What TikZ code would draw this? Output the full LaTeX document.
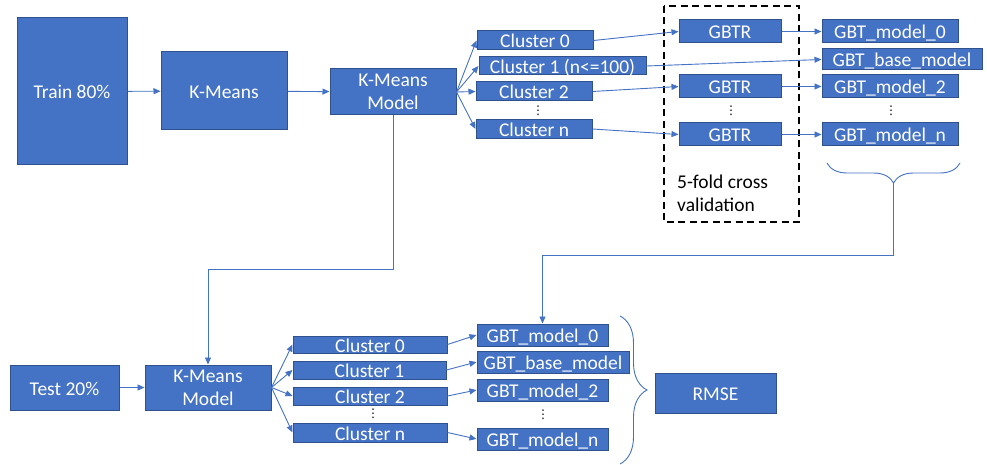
\documentclass[tikz,border=0pt]{standalone}
\usepackage{fontspec}
\setmainfont{Carlito}
\newfontfamily\symfont{DejaVu Sans}
\usetikzlibrary{arrows.meta,decorations.pathreplacing}
\definecolor{boxblue}{HTML}{4472C4}
\definecolor{boxedge}{HTML}{2F528F}
\definecolor{linkblue}{HTML}{4472C4}
\newcommand{\boxfont}{\fontsize{19.5}{23}\selectfont}

\begin{document}
\begin{tikzpicture}[x=1pt,y=-1pt,
  blk/.style={draw=boxedge,fill=boxblue,text=white,font=\boxfont,inner sep=0pt,line width=1pt},
  one/.style={blk,text height=15pt,text depth=0pt},
  two/.style={blk,align=center},
  clus/.style={one,minimum width=116pt,minimum height=19pt},
  gbtr/.style={one,minimum width=102pt,minimum height=23pt},
  mdl/.style={one,minimum width=136pt,minimum height=23pt},
  vdot/.style={inner sep=0pt,font=\symfont\fontsize{12}{12}\selectfont},
  link/.style={draw=linkblue,line width=0.9pt,-{Triangle[length=7pt,width=6pt]}},
  brc/.style={draw=linkblue,line width=0.9pt,decorate,decoration={brace,amplitude=#1}},
  cvbox/.style={draw=black,line width=2pt,dash pattern=on 7pt off 4.5pt}]

\useasboundingbox (0,0) rectangle (987,465);

%% ---------------- training ----------------
\node[one,minimum width=110pt,minimum height=147pt] (train) at (72,91.5) {Train 80\%};
\node[one,minimum width=126pt,minimum height=78pt] (kmeans) at (224,91) {K-Means};
\node[two,minimum width=126pt,minimum height=46pt] (kmm) at (393,92) {K-Means\\Model};

\node[clus] (c0) at (535,40.5) {Cluster 0};
\node[one,minimum width=167pt,minimum height=18pt] (c1) at (562.5,66) {Cluster 1 (n<=100)};
\node[clus] (c2) at (534,91.5) {Cluster 2};
\node[vdot] (cdots) at (538,110.5) {⋮};
\node[clus] (cn) at (534,129) {Cluster n};

\draw[cvbox] (664,6) rectangle (799,222);
\node[gbtr] (gbtr0) at (730,31.5) {GBTR};
\node[gbtr] (gbtr2) at (730,86.5) {GBTR};
\node[vdot] (rdots) at (731,110.5) {⋮};
\node[gbtr] (gbtrn) at (730,134.5) {GBTR};
\node[font=\boxfont,inner sep=0pt,align=left,anchor=west] (cvnote) at (677,193) {5-fold cross\\validation};

\node[mdl] (m0) at (890,31.5) {GBT\_model\_0};
\node[one,minimum width=160pt,minimum height=21pt] (mbase) at (902,59.5) {GBT\_base\_model};
\node[mdl] (m2) at (890,86.5) {GBT\_model\_2};
\node[vdot] (mdots) at (891,110.5) {⋮};
\node[mdl] (mn) at (890,134.5) {GBT\_model\_n};

\draw[link] (train) -- (kmeans);
\draw[link] (kmeans) -- (kmm);
\foreach \c in {c0,c1,c2,cn}
  \draw[link] (kmm.east) -- (\c.west);
\draw[link] (c0.east) -- (gbtr0.west);
\draw[link] (c1.east) -- (mbase.west);
\draw[link] (c2.east) -- (gbtr2.west);
\draw[link] (cn.east) -- (gbtrn.west);
\draw[link] (gbtr0) -- (m0);
\draw[link] (gbtr2) -- (m2);
\draw[link] (gbtrn) -- (mn);

\draw[brc=20pt] (960,163) -- (827,163);
\coordinate (trainTip) at (893,183);

%% ---------------- testing ----------------
\node[one,minimum width=109pt,minimum height=45pt] (test) at (64.5,387.5) {Test 20\%};
\node[two,minimum width=126pt,minimum height=45pt] (kmm2) at (208,387.5) {K-Means\\Model};

\node[one,minimum width=154pt,minimum height=17pt] (tc0) at (370,344.5) {Cluster 0};
\node[one,minimum width=153pt,minimum height=18pt] (tc1) at (369.5,370) {Cluster 1};
\node[one,minimum width=154pt,minimum height=18pt] (tc2) at (370,396) {Cluster 2};
\node[vdot] (tcdots) at (373,414) {⋮};
\node[one,minimum width=154pt,minimum height=19pt] (tcn) at (370,432.5) {Cluster n};

\node[one,minimum width=131pt,minimum height=22pt] (tm0) at (542.5,335) {GBT\_model\_0};
\node[one,minimum width=152pt,minimum height=22pt] (tmbase) at (553,362) {GBT\_base\_model};
\node[one,minimum width=131pt,minimum height=22pt] (tm2) at (542.5,390) {GBT\_model\_2};
\node[vdot] (tmdots) at (543,414.5) {⋮};
\node[one,minimum width=131pt,minimum height=22pt] (tmn) at (542.5,439) {GBT\_model\_n};

\node[one,minimum width=121pt,minimum height=40pt] (rmse) at (715.5,393) {RMSE};

\draw[link] (kmm.south) -- ++(0,154) -| (kmm2.north);
\draw[link] (trainTip) -- ++(0,72) -| (tm0.north);
\draw[link] (test) -- (kmm2);
\foreach \c in {tc0,tc1,tc2,tcn}
  \draw[link] (kmm2.east) -- (\c.west);
\draw[link] (tc0.east) -- (tm0.west);
\draw[link] (tc1.east) -- (tmbase.west);
\draw[link] (tc2.east) -- (tm2.west);
\draw[link] (tcn.east) -- (tmn.west);

\draw[brc=27pt] (620,316) -- (620,464);

\end{tikzpicture}
\end{document}
